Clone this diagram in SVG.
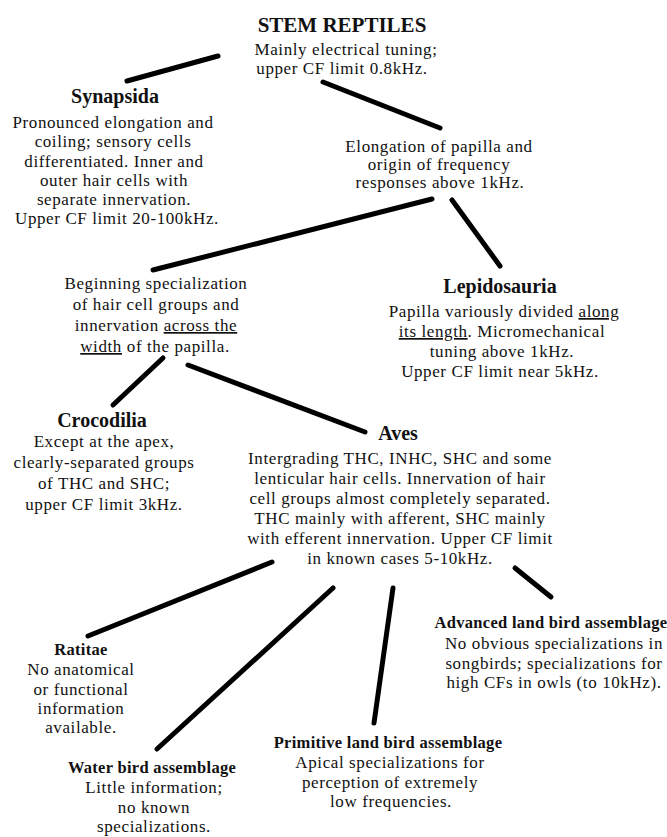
<svg xmlns="http://www.w3.org/2000/svg" width="667" height="837" viewBox="0 0 667 837">
<style>
text{font-family:"Liberation Serif","Times New Roman",serif;fill:#111;text-anchor:middle}
.b{font-size:17px;letter-spacing:0.6px}
.t{font-size:20px;font-weight:bold}
.h{font-size:21px;font-weight:bold}
.s{font-size:16.5px;font-weight:bold;letter-spacing:0.3px}
.u{text-decoration:underline;text-decoration-thickness:1.6px;text-underline-offset:3px}
#edges line{stroke:#000;stroke-width:5;stroke-linecap:round}
</style>
<rect width="667" height="837" fill="#fff"/>
<g id="edges">
<line x1="127" y1="81" x2="218" y2="56"/>
<line x1="323" y1="82" x2="440" y2="128"/>
<line x1="153" y1="270" x2="432" y2="199"/>
<line x1="452" y1="200" x2="500" y2="266"/>
<line x1="163" y1="358" x2="113" y2="405"/>
<line x1="188" y1="365" x2="365" y2="432"/>
<line x1="272" y1="562" x2="88" y2="636"/>
<line x1="333" y1="588" x2="157" y2="749"/>
<line x1="393" y1="588" x2="374" y2="723"/>
<line x1="515" y1="568" x2="551" y2="597"/>
</g>
<g id="stem">
<text class="h" x="342" y="32">STEM REPTILES</text>
<text class="b" x="346" y="55">Mainly electrical tuning;</text>
<text class="b" x="342" y="74">upper CF limit 0.8kHz.</text>
</g>
<g id="synapsida">
<text class="t" x="115" y="103">Synapsida</text>
<text class="b" x="113" y="128">Pronounced elongation and</text>
<text class="b" x="113" y="147">coiling; sensory cells</text>
<text class="b" x="114" y="166.5">differentiated. Inner and</text>
<text class="b" x="114" y="186">outer hair cells with</text>
<text class="b" x="114" y="205">separate innervation.</text>
<text class="b" x="117" y="224">Upper CF limit 20-100kHz.</text>
</g>
<g id="elongation">
<text class="b" x="439" y="152">Elongation of papilla and</text>
<text class="b" x="439" y="170">origin of frequency</text>
<text class="b" x="440" y="188">responses above 1kHz.</text>
</g>
<g id="beginning">
<text class="b" x="156" y="289">Beginning specialization</text>
<text class="b" x="156" y="310">of hair cell groups and</text>
<text class="b" x="156" y="331">innervation <tspan class="u">across the</tspan></text>
<text class="b" x="155" y="352"><tspan class="u">width</tspan> of the papilla.</text>
</g>
<g id="lepidosauria">
<text class="t" x="500" y="293">Lepidosauria</text>
<text class="b" x="504" y="317">Papilla variously divided <tspan class="u">along</tspan></text>
<text class="b" x="502" y="337"><tspan class="u">its length</tspan>. Micromechanical</text>
<text class="b" x="502" y="357">tuning above 1kHz.</text>
<text class="b" x="500" y="377">Upper CF limit near 5kHz.</text>
</g>
<g id="crocodilia">
<text class="t" x="102" y="427">Crocodilia</text>
<text class="b" x="104" y="447">Except at the apex,</text>
<text class="b" x="104" y="468">clearly-separated groups</text>
<text class="b" x="104" y="489">of THC and SHC;</text>
<text class="b" x="104" y="510">upper CF limit 3kHz.</text>
</g>
<g id="aves">
<text class="t" x="398" y="440">Aves</text>
<text class="b" x="400" y="464">Intergrading THC, INHC, SHC and some</text>
<text class="b" x="400" y="484">lenticular hair cells. Innervation of hair</text>
<text class="b" x="400" y="504">cell groups almost completely separated.</text>
<text class="b" x="400" y="524">THC mainly with afferent, SHC mainly</text>
<text class="b" x="400" y="544">with efferent innervation. Upper CF limit</text>
<text class="b" x="400" y="564">in known cases 5-10kHz.</text>
</g>
<g id="ratitae">
<text class="s" x="81" y="655">Ratitae</text>
<text class="b" x="81" y="675">No anatomical</text>
<text class="b" x="81" y="695">or functional</text>
<text class="b" x="81" y="714">information</text>
<text class="b" x="81" y="733">available.</text>
</g>
<g id="waterbird">
<text class="s" x="152" y="773">Water bird assemblage</text>
<text class="b" x="154" y="793">Little information;</text>
<text class="b" x="154" y="813">no known</text>
<text class="b" x="154" y="832">specializations.</text>
</g>
<g id="primitive">
<text class="s" x="388" y="748">Primitive land bird assemblage</text>
<text class="b" x="390" y="768">Apical specializations for</text>
<text class="b" x="390" y="788">perception of extremely</text>
<text class="b" x="391" y="807">low frequencies.</text>
</g>
<g id="advanced">
<text class="s" x="551" y="628">Advanced land bird assemblage</text>
<text class="b" x="554" y="649">No obvious specializations in</text>
<text class="b" x="554" y="669">songbirds; specializations for</text>
<text class="b" x="554" y="688">high CFs in owls (to 10kHz).</text>
</g>
</svg>
